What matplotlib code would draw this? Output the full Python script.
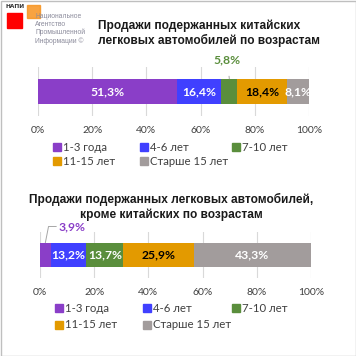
import matplotlib.pyplot as plt
from matplotlib.patches import Rectangle

# data
categories = ["1-3 года", "4-6 лет", "7-10 лет", "11-15 лет", "Старше 15 лет"]
colors = ["#8A3EC8", "#4040FF", "#5A8E3C", "#E39A00", "#A29C9C"]
label_colors = ["white", "white", "white", "black", "white"]
chinese = [51.3, 16.4, 5.8, 18.4, 8.1]
others = [3.9, 13.2, 13.7, 25.9, 43.3]
ticks = [0, 20, 40, 60, 80, 100]
title1 = "Продажи подержанных китайских\nлегковых автомобилей по возрастам"
title2 = "Продажи подержанных легковых автомобилей,\nкроме китайских по возрастам"

W = H = 356
fig = plt.figure(figsize=(W / 100, H / 100), dpi=100)
fig.patch.set_facecolor("white")

LABEL_FONT = "Lato"
TITLE_FONT = "Liberation Sans"


def px_axes(x0, y0, x1, y1):
    # pixel box (top-left origin) -> figure axes
    return fig.add_axes([x0 / W, 1 - y1 / H, (x1 - x0) / W, (y1 - y0) / H])


def fx(x):
    return x / W


def fy(y):
    return 1 - y / H


def pct(v):
    return f"{v:.1f}%".replace(".", ",")


def stacked(ax, values, outside):
    left = 0
    for i, v in enumerate(values):
        ax.barh(0, v, left=left, height=0.52, color=colors[i], zorder=3)
        if i not in outside:
            ax.text(left + v / 2, 0, pct(v), ha="center", va="center",
                    color=label_colors[i], fontsize=8.7, fontweight="bold",
                    family=LABEL_FONT, zorder=4)
        left += v
    ax.set_xlim(0, 100)
    ax.set_ylim(-0.5, 0.5)
    ax.set_xticks(ticks)
    ax.set_xticklabels([f"{t}%" for t in ticks], family=LABEL_FONT, fontsize=7.5, color="#404040")
    ax.set_yticks([])
    ax.tick_params(axis="x", length=0, pad=7)
    ax.grid(axis="x", color="#D9D9D9", linewidth=0.8, zorder=0)
    for s in ax.spines.values():
        s.set_visible(False)
    ax.patch.set_alpha(0)


def legend(col_x, row_y):
    for i, cat in enumerate(categories):
        x = col_x[i % 3]
        y = row_y[i // 3]
        fig.patches.append(Rectangle((fx(x), fy(y + 4)), 8 / W, 8 / H,
                                     transform=fig.transFigure, color=colors[i]))
        fig.text(fx(x + 10), fy(y), cat, family=LABEL_FONT, fontsize=8.2,
                 color="#404040", va="center", ha="left")


# top chart
ax1 = px_axes(38, 67, 309, 116)
stacked(ax1, chinese, outside=[2])
x_green = chinese[0] + chinese[1] + chinese[2] / 2
ax1.annotate(pct(chinese[2]), xy=(x_green, 0.26), xytext=(x_green - 0.8, 0.65),
             ha="center", va="center", color=colors[2], fontsize=8.7, fontweight="bold",
             family=LABEL_FONT, annotation_clip=False,
             arrowprops=dict(arrowstyle="-", color="#A6A6A6", lw=0.7, shrinkA=6, shrinkB=0))
fig.text(fx(98), fy(33.5), title1, ha="left", va="center", multialignment="left",
         family=TITLE_FONT, fontsize=8.6, fontweight="bold", color="#1A1A1A", linespacing=1.2)
legend([53, 140, 232], [147, 161])

# bottom chart
ax2 = px_axes(40, 232, 311, 278)
stacked(ax2, others, outside=[0])
x_purple = others[0] / 2
ax2.plot([x_purple, x_purple + 1.2, x_purple + 4.0], [0.26, 0.62, 0.62],
         color="#A6A6A6", lw=0.7, clip_on=False, zorder=2)
ax2.text(x_purple + 4.8, 0.62, pct(others[0]), ha="left", va="center", color=colors[0],
         fontsize=8.7, fontweight="bold", family=LABEL_FONT)
fig.text(fx(171), fy(207), title2, ha="center", va="center", family=TITLE_FONT,
         fontsize=8.6, fontweight="bold", color="#1A1A1A", linespacing=1.2)
legend([55, 143, 232], [308, 325])

# logo
fig.patches.append(Rectangle((fx(7), fy(28)), 15 / W, 15 / H, transform=fig.transFigure,
                             color="#FF0000"))
fig.patches.append(Rectangle((fx(27), fy(18)), 13 / W, 13 / H, transform=fig.transFigure,
                             color="#F7931E", alpha=0.85))
fig.text(fx(6), fy(7), "НАПИ", fontsize=4.2, fontweight="bold", color="#333333",
         va="center", ha="left", family="DejaVu Sans")
for k, line in enumerate(["Национальное", "Агентство", "Промышленной", "Информации ©"]):
    fig.text(fx(35), fy(16 + 8.3 * k), line, fontsize=4.9, color="#8C8C9C",
             va="center", ha="left", family="Liberation Sans")

# border
fig.patches.append(Rectangle((0.5 / W, 0.5 / H), 1 - 1 / W, 1 - 1 / H, transform=fig.transFigure,
                             fill=False, edgecolor="#BFBFBF", lw=1))

fig.savefig("out.png", dpi=100)
